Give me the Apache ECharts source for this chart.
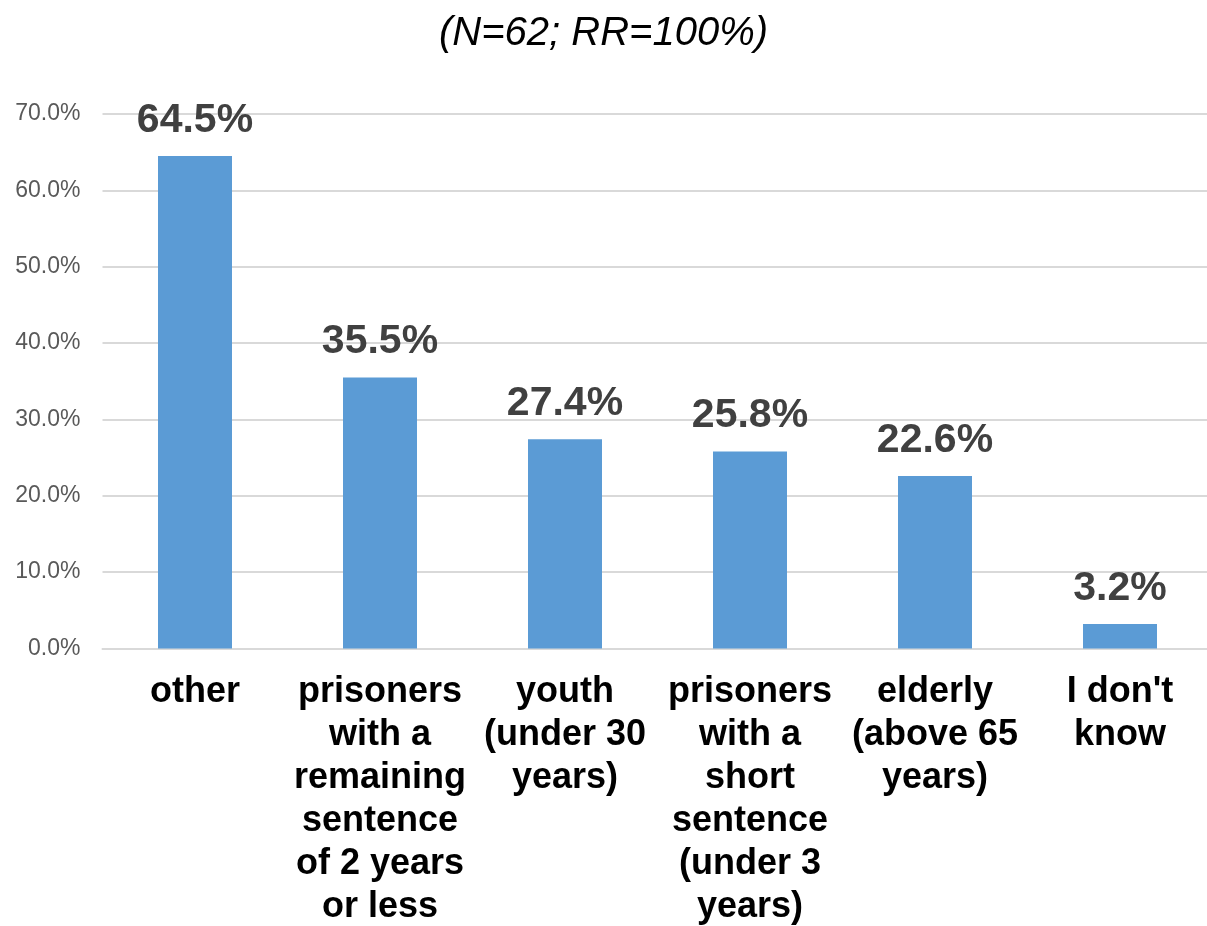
<!DOCTYPE html>
<html>
<head>
<meta charset="utf-8">
<script src="https://cdn.jsdelivr.net/npm/echarts@6/dist/echarts.min.js"></script>
<style>
  html, body { margin: 0; padding: 0; background: #fff; }
  #chart { width: 1207px; height: 926px; }
</style>
</head>
<body>
<div id="chart"></div>
<script>
// Groups named in the survey answers (line breaks as shown under each bar)
const categories = [
  'other',
  'prisoners\nwith a\nremaining\nsentence\nof 2 years\nor less',
  'youth\n(under 30\nyears)',
  'prisoners\nwith a\nshort\nsentence\n(under 3\nyears)',
  'elderly\n(above 65\nyears)',
  "I don't\nknow"
];
// Share of respondents, in percent
const shares = [64.5, 35.5, 27.4, 25.8, 22.6, 3.2];
const subtitle = '(N=62; RR=100%)';

const FONT = 'Liberation Sans, Arial, sans-serif';

const chart = echarts.init(document.getElementById('chart'));
chart.setOption({
  animation: false,
  title: {
    text: subtitle,
    left: 'center',
    top: 9,
    textStyle: {
      fontFamily: FONT,
      fontSize: 40,
      fontStyle: 'italic',
      fontWeight: 'normal',
      color: '#000'
    }
  },
  grid: {
    left: 102.5,
    top: 114,
    width: 1110,
    height: 534.5,
    containLabel: false,
    outerBoundsMode: 'none'
  },
  xAxis: {
    type: 'category',
    data: categories,
    axisTick: { show: false },
    axisLine: { lineStyle: { color: '#d9d9d9', width: 2 } },
    axisLabel: {
      interval: 0,
      margin: 22,
      fontFamily: FONT,
      fontSize: 36,
      fontWeight: 'bold',
      lineHeight: 43,
      color: '#000',
      align: 'center'
    }
  },
  yAxis: {
    type: 'value',
    min: 0,
    max: 70,
    interval: 10,
    axisLine: { show: false },
    axisTick: { show: false },
    splitLine: { lineStyle: { color: '#d9d9d9', width: 2 } },
    axisLabel: {
      margin: 22,
      fontFamily: FONT,
      fontSize: 23,
      color: '#595959',
      formatter: v => v.toFixed(1) + '%'
    }
  },
  series: [{
    type: 'bar',
    data: shares,
    barWidth: 74,
    itemStyle: { color: '#5b9bd5' },
    label: {
      show: true,
      position: 'top',
      distance: 15,
      fontFamily: FONT,
      fontSize: 41,
      fontWeight: 'bold',
      color: '#404040',
      formatter: p => p.value.toFixed(1) + '%'
    }
  }]
});
</script>
</body>
</html>
